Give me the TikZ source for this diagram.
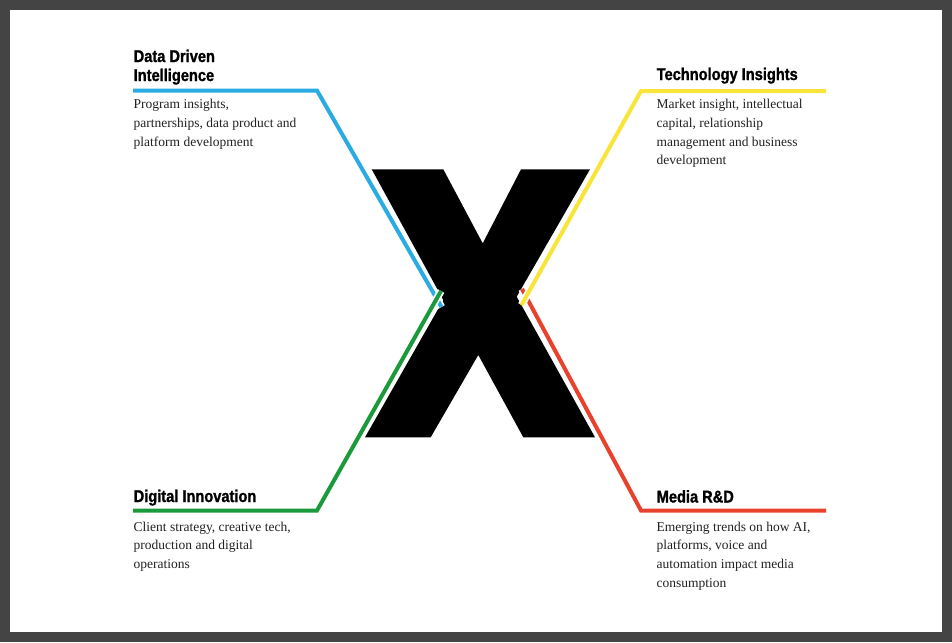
\documentclass[tikz,border=0pt]{standalone}
\usepackage{fontspec}
\setmainfont{Liberation Serif}
\newfontfamily\headfont[FakeStretch=0.86, BoldFeatures={FakeBold=1.2}]{Liberation Sans}
\definecolor{framegray}{HTML}{444444}
\definecolor{lblue}{HTML}{2AACE2}
\definecolor{lyellow}{HTML}{F9E539}
\definecolor{lgreen}{HTML}{1A9A3A}
\definecolor{lred}{HTML}{E8412C}
\definecolor{bodygray}{HTML}{222222}
\tikzset{
  heading/.style={inner sep=0pt, anchor=base west, font=\headfont\bfseries\fontsize{17}{19}\selectfont, text=black, align=left},
  bodytext/.style={inner sep=0pt, anchor=north west, font=\fontsize{13.5}{18.7}\selectfont, text=bodygray, align=left},
  colline/.style={line width=4pt, line join=miter, line cap=butt, preaction={draw=white, line width=7.5pt, line join=miter}}
}
\begin{document}
\begin{tikzpicture}[x=1pt,y=-1pt]
\useasboundingbox (0,0) rectangle (952,642);
\fill[framegray] (0,0) rectangle (952,642);
\fill[white] (10,10) rectangle (942,632);
% the X
\fill[black] (371.7,169.3) -- (443.3,169.3) -- (482.7,243.3) -- (521,169.3) -- (590,169.3)
  -- (516.7,296.7) -- (595,437.3) -- (523.3,437.3) -- (478.3,355) -- (430.7,437.3)
  -- (365,437.3) -- (443.3,300) -- cycle;
% line corners
\coordinate (bA) at (133,90.5);
\coordinate (bB) at (317,90.5);
\coordinate (bC) at (441.5,307);
\coordinate (gA) at (133,510.5);
\coordinate (gB) at (317,510.5);
\coordinate (gC) at (441,291);
\coordinate (yA) at (826,91);
\coordinate (yB) at (641,91);
\coordinate (yC) at (521.5,305);
\coordinate (rA) at (826,510.5);
\coordinate (rB) at (641,510.5);
\coordinate (rC) at (522,289);
% connectors
\draw[colline, lblue] (bA) -- (bB) -- (bC);
\draw[colline, lgreen] (gA) -- (gB) -- (gC);
\draw[colline, lred] (rA) -- (rB) -- (rC);
\draw[colline, lyellow] (yA) -- (yB) -- (yC);
% headings
\node[heading, anchor=north west] (h1) at (133.5,49.5) {Data Driven\\Intelligence};
\node[heading] (h2) at (656.5,80) {Technology Insights};
\node[heading] (h3) at (133.5,502) {Digital Innovation};
\node[heading] (h4) at (656.5,502.5) {Media R\&D};
% body texts
\node[bodytext] (t1) at (133.5,99.3) {Program insights,\\partnerships, data product and\\platform development};
\node[bodytext] (t2) at (656.5,99.3) {Market insight, intellectual\\capital, relationship\\management and business\\development};
\node[bodytext] (t3) at (133.5,521.5) {Client strategy, creative tech,\\production and digital\\operations};
\node[bodytext] (t4) at (656.5,521.5) {Emerging trends on how AI,\\platforms, voice and\\automation impact media\\consumption};
\end{tikzpicture}
\end{document}
